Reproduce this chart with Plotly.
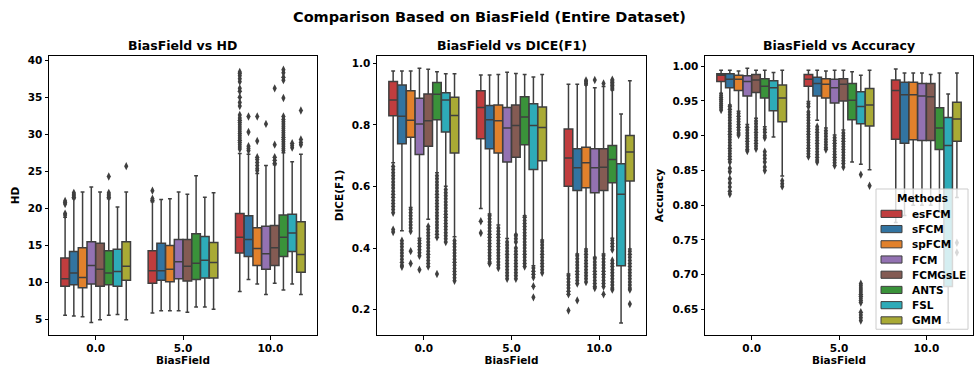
import plotly.graph_objects as go

CATS = ["0.0", "5.0", "10.0"]
METHODS = ["esFCM", "sFCM", "spFCM", "FCM", "FCMGsLE", "ANTS", "FSL", "GMM"]
COLORS = ["#c03d3e", "#3274a1", "#e1812c", "#9372b2", "#845b53", "#3a923a", "#2eabb8", "#a9aa35"]
EDGE = "#3f3f3f"

# ---------------- HD ----------------
HD_Q1 = {"esFCM": [9.5, 9.9, 14.0], "sFCM": [9.7, 10.3, 13.5], "spFCM": [9.3, 10.1, 12.3], "FCM": [9.8, 10.5, 11.8],
         "FCMGsLE": [9.5, 10.2, 12.3], "ANTS": [9.7, 10.4, 13.5], "FSL": [9.5, 10.6, 14.2], "GMM": [10.3, 10.6, 11.4]}
HD_MED = {"esFCM": [10.5, 11.6, 16.1], "sFCM": [11.3, 11.6, 15.8], "spFCM": [10.7, 11.8, 14.6], "FCM": [12.3, 12.8, 13.9],
          "FCMGsLE": [11.8, 12.2, 14.7], "ANTS": [11.3, 12.6, 16.1], "FSL": [11.5, 13.0, 16.7], "GMM": [12.2, 12.7, 13.8]}
HD_Q3 = {"esFCM": [13.3, 14.3, 19.3], "sFCM": [14.2, 15.3, 19.0], "spFCM": [14.7, 15.0, 17.4], "FCM": [15.5, 15.8, 17.6],
         "FCMGsLE": [15.3, 15.8, 17.7], "ANTS": [14.3, 16.6, 19.1], "FSL": [14.5, 16.2, 19.2], "GMM": [15.5, 15.4, 18.2]}
HD_LO = {"esFCM": [5.6, 5.9, 8.8], "sFCM": [5.5, 6.2, 10.4], "spFCM": [5.4, 6.2, 9.8], "FCM": [4.6, 6.2, 8.4],
         "FCMGsLE": [5.0, 6.0, 9.9], "ANTS": [5.6, 6.7, 9.0], "FSL": [5.7, 6.7, 9.8], "GMM": [5.0, 6.4, 8.4]}
HD_HI = {"esFCM": [18.8, 20.9, 27.4], "sFCM": [21.3, 21.2, 27.3], "spFCM": [22.2, 21.3, 24.7], "FCM": [22.9, 22.2, 25.8],
         "FCMGsLE": [22.2, 21.9, 25.9], "ANTS": [21.3, 24.4, 27.5], "FSL": [20.2, 21.5, 26.3], "GMM": [22.2, 22.1, 27.3]}
HD_OUT = {
    "esFCM": [[19.1, 19.3, 20.6, 20.8, 21.0], [21.1, 21.3, 22.4],
              [28.0, 28.3, 28.6, 28.9, 29.2, 29.5, 29.8, 30.1, 30.4, 30.7, 31.0, 31.3, 31.6, 31.9, 32.2, 32.6,
               33.8, 34.3, 35.0, 35.8, 36.2, 37.1, 37.5, 37.9, 38.2, 38.4]],
    "sFCM": [[21.5, 21.7, 21.9, 22.1], [], [27.8, 28.1, 28.4, 30.3, 32.4]],
    "spFCM": [[], [], [25.1, 25.4, 25.8, 26.2, 26.6, 26.9, 29.1, 32.4]],
    "FCM": [[], [], [31.4]],
    "FCMGsLE": [[], [], [26.1, 26.5, 26.9, 28.6, 36.2]],
    "ANTS": [[21.5, 21.7, 21.9, 22.1, 24.3], [],
             [27.8, 28.1, 28.4, 28.7, 29.0, 29.3, 29.6, 29.9, 30.2, 30.5, 30.8, 31.1, 31.4, 31.7, 32.0, 32.4,
              34.9, 37.3, 37.7, 38.3, 38.7]],
    "FSL": [[], [], [28.2, 28.5, 28.8]],
    "GMM": [[25.7], [], [28.6, 28.9, 29.3, 33.2]],
}

# ---------------- DICE(F1) ----------------
DC_Q1 = {"esFCM": [0.830, 0.755, 0.601], "sFCM": [0.739, 0.723, 0.587], "spFCM": [0.760, 0.709, 0.596], "FCM": [0.704, 0.680, 0.580],
         "FCMGsLE": [0.731, 0.695, 0.587], "ANTS": [0.817, 0.736, 0.612], "FSL": [0.777, 0.655, 0.343], "GMM": [0.709, 0.684, 0.618]}
DC_MED = {"esFCM": [0.881, 0.857, 0.693], "sFCM": [0.828, 0.817, 0.661], "spFCM": [0.815, 0.814, 0.677], "FCM": [0.803, 0.790, 0.661],
          "FCMGsLE": [0.814, 0.798, 0.663], "ANTS": [0.900, 0.826, 0.688], "FSL": [0.881, 0.798, 0.575], "GMM": [0.831, 0.792, 0.712]}
DC_Q3 = {"esFCM": [0.941, 0.911, 0.787], "sFCM": [0.930, 0.863, 0.723], "spFCM": [0.911, 0.865, 0.728], "FCM": [0.887, 0.857, 0.723],
         "FCMGsLE": [0.901, 0.865, 0.723], "ANTS": [0.938, 0.892, 0.733], "FSL": [0.905, 0.869, 0.674], "GMM": [0.890, 0.858, 0.766]}
DC_LO = {"esFCM": [0.677, 0.529, 0.316], "sFCM": [0.456, 0.511, 0.381], "spFCM": [0.532, 0.475, 0.397], "FCM": [0.432, 0.431, 0.370],
         "FCMGsLE": [0.494, 0.445, 0.381], "ANTS": [0.645, 0.505, 0.432], "FSL": [0.601, 0.343, 0.157], "GMM": [0.437, 0.426, 0.397]}
DC_HI = {"esFCM": [0.975, 0.962, 0.932], "sFCM": [0.975, 0.962, 0.932], "spFCM": [0.975, 0.964, 0.930], "FCM": [0.984, 0.971, 0.921],
         "FCMGsLE": [0.981, 0.967, 0.925], "ANTS": [0.973, 0.964, 0.914], "FSL": [0.966, 0.956, 0.836], "GMM": [0.966, 0.964, 0.944]}
DC_OUT = {
    "esFCM": [[0.665, 0.655, 0.645, 0.635, 0.625, 0.615, 0.605, 0.595, 0.585, 0.575, 0.565, 0.555, 0.545, 0.535, 0.525, 0.515, 0.460, 0.452],
              [0.487, 0.449],
              [0.310, 0.300, 0.290, 0.280, 0.270, 0.260, 0.250, 0.197]],
    "sFCM": [[0.424, 0.414, 0.404, 0.394, 0.384, 0.374, 0.364, 0.354, 0.344, 0.339],
             [0.505, 0.495, 0.485, 0.475, 0.465, 0.455, 0.445, 0.435, 0.425, 0.415, 0.405, 0.395, 0.385, 0.375, 0.365, 0.355, 0.350],
             [0.375, 0.365, 0.355, 0.345, 0.335, 0.325, 0.315, 0.305, 0.295, 0.285, 0.230]],
    "spFCM": [[0.525, 0.515, 0.505, 0.495, 0.485, 0.475, 0.465, 0.455, 0.390, 0.350],
              [0.465, 0.455, 0.445, 0.435, 0.425, 0.415, 0.405, 0.395, 0.385, 0.375, 0.365, 0.355, 0.345, 0.335],
              [0.935, 0.940, 0.945, 0.390, 0.380, 0.370, 0.360, 0.350, 0.340, 0.330, 0.320, 0.310, 0.300, 0.290]],
    "FCM": [[0.425, 0.415, 0.405, 0.395, 0.385, 0.375, 0.330],
            [0.420, 0.410, 0.400, 0.390, 0.380, 0.370, 0.360, 0.350, 0.340, 0.330, 0.320, 0.310, 0.300],
            [0.946, 0.365, 0.355, 0.345, 0.335, 0.325, 0.315, 0.305, 0.295, 0.285, 0.275, 0.270]],
    "FCMGsLE": [[0.470, 0.460, 0.450, 0.440, 0.430, 0.420, 0.410, 0.400, 0.390, 0.380, 0.370, 0.360, 0.350, 0.340],
                [0.440, 0.430, 0.420, 0.400, 0.390, 0.380, 0.370, 0.360, 0.350, 0.340, 0.330, 0.320, 0.310, 0.300],
                [0.935, 0.375, 0.365, 0.355, 0.345, 0.335, 0.325, 0.315, 0.305, 0.295, 0.285, 0.275, 0.250]],
    "ANTS": [[0.635, 0.625, 0.615, 0.605, 0.595, 0.585, 0.575, 0.565, 0.555, 0.545, 0.535, 0.525, 0.515, 0.505, 0.495,
              0.485, 0.475, 0.465, 0.455, 0.445, 0.435, 0.316],
             [0.500, 0.490, 0.480, 0.470, 0.460, 0.450, 0.440, 0.430, 0.420, 0.410, 0.400, 0.390, 0.380, 0.370, 0.360, 0.350, 0.340],
             [0.918, 0.923, 0.928, 0.933, 0.938, 0.943, 0.947, 0.425, 0.415, 0.405, 0.395, 0.360, 0.350, 0.340, 0.330, 0.320,
              0.310, 0.300, 0.290, 0.280, 0.270, 0.265]],
    "FSL": [[0.590, 0.580, 0.570, 0.560, 0.550, 0.540, 0.530, 0.520, 0.510, 0.500, 0.490, 0.480, 0.470, 0.460, 0.450, 0.440, 0.430, 0.420],
            [0.335, 0.325, 0.315, 0.305, 0.276, 0.240],
            []],
    "GMM": [[0.424, 0.414, 0.404, 0.394, 0.384, 0.374, 0.364, 0.354, 0.344, 0.334, 0.324, 0.314, 0.304, 0.294],
            [0.420, 0.410, 0.400, 0.390, 0.380, 0.370, 0.360, 0.350, 0.340, 0.330, 0.320],
            [0.390, 0.380, 0.370, 0.360, 0.350, 0.340, 0.330, 0.320, 0.310, 0.300, 0.290, 0.280, 0.270, 0.265, 0.218]],
}

# ---------------- Accuracy ----------------
AC_Q1 = {"esFCM": [0.978, 0.971, 0.895], "sFCM": [0.969, 0.957, 0.889], "spFCM": [0.965, 0.954, 0.894], "FCM": [0.957, 0.947, 0.893],
         "FCMGsLE": [0.962, 0.950, 0.893], "ANTS": [0.954, 0.923, 0.880], "FSL": [0.936, 0.917, 0.683], "GMM": [0.920, 0.914, 0.892]}
AC_MED = {"esFCM": [0.987, 0.981, 0.965], "sFCM": [0.981, 0.975, 0.959], "spFCM": [0.981, 0.974, 0.959], "FCM": [0.978, 0.969, 0.957],
          "FCMGsLE": [0.980, 0.974, 0.956], "ANTS": [0.971, 0.951, 0.911], "FSL": [0.969, 0.942, 0.886], "GMM": [0.954, 0.944, 0.924]}
AC_Q3 = {"esFCM": [0.989, 0.988, 0.980], "sFCM": [0.989, 0.984, 0.977], "spFCM": [0.987, 0.982, 0.977], "FCM": [0.986, 0.981, 0.975],
         "FCMGsLE": [0.988, 0.982, 0.975], "ANTS": [0.982, 0.975, 0.940], "FSL": [0.979, 0.963, 0.926], "GMM": [0.973, 0.968, 0.948]}
AC_LO = {"esFCM": [0.961, 0.949, 0.775], "sFCM": [0.944, 0.922, 0.785], "spFCM": [0.935, 0.911, 0.800], "FCM": [0.916, 0.901, 0.800],
         "FCMGsLE": [0.925, 0.908, 0.800], "ANTS": [0.913, 0.862, 0.790], "FSL": [0.898, 0.859, 0.631], "GMM": [0.842, 0.851, 0.811]}
AC_HI = {"esFCM": [0.994, 0.994, 0.996], "sFCM": [0.994, 0.994, 0.990], "spFCM": [0.993, 0.993, 0.990], "FCM": [0.997, 0.994, 0.990],
         "FCMGsLE": [0.994, 0.994, 0.988], "ANTS": [0.994, 0.992, 0.990], "FSL": [0.991, 0.987, 0.960], "GMM": [0.994, 0.994, 0.990]}
AC_OUT = {
    "esFCM": [[0.958, 0.955, 0.952, 0.949, 0.946, 0.943, 0.940, 0.937],
              [0.946, 0.942, 0.934, 0.930, 0.926, 0.922, 0.918, 0.914, 0.910, 0.906, 0.902, 0.898, 0.894, 0.890, 0.886,
               0.882, 0.878, 0.874, 0.870],
              []],
    "sFCM": [[0.942, 0.938, 0.934, 0.930, 0.926, 0.922, 0.918, 0.914, 0.910, 0.906, 0.902, 0.898, 0.894, 0.890, 0.886,
              0.882, 0.878, 0.874, 0.870, 0.866, 0.862, 0.853, 0.848, 0.838, 0.832, 0.826, 0.820, 0.816],
             [0.913, 0.909, 0.905, 0.901, 0.897, 0.893, 0.889, 0.885, 0.881, 0.877, 0.873, 0.869, 0.865, 0.862],
             []],
    "spFCM": [[0.932, 0.928, 0.924, 0.920, 0.916, 0.912, 0.908, 0.904, 0.901],
              [0.907, 0.903, 0.899, 0.895, 0.891, 0.887, 0.883, 0.880],
              []],
    "FCM": [[0.912, 0.908, 0.904, 0.900, 0.896, 0.892, 0.888, 0.884, 0.880, 0.878],
            [0.897, 0.893, 0.889, 0.885, 0.881, 0.877, 0.873, 0.869, 0.865, 0.861, 0.857],
            []],
    "FCMGsLE": [[0.921, 0.917, 0.913, 0.909, 0.905, 0.901, 0.897, 0.893, 0.889, 0.885, 0.881],
                [0.904, 0.900, 0.896, 0.892, 0.888, 0.884, 0.880, 0.876, 0.872, 0.868, 0.864, 0.860, 0.855],
                []],
    "ANTS": [[0.909, 0.905, 0.900, 0.897, 0.877, 0.872, 0.867, 0.862, 0.855, 0.850], [], []],
    "FSL": [[], [0.844, 0.687, 0.684, 0.681, 0.678, 0.675, 0.672, 0.669, 0.666, 0.663, 0.660, 0.646, 0.642, 0.638, 0.634], []],
    "GMM": [[0.835, 0.831, 0.827], [0.828], [0.746, 0.732]],
}

METRICS = [
    ("HD", HD_Q1, HD_MED, HD_Q3, HD_LO, HD_HI, HD_OUT),
    ("DICE(F1)", DC_Q1, DC_MED, DC_Q3, DC_LO, DC_HI, DC_OUT),
    ("Accuracy", AC_Q1, AC_MED, AC_Q3, AC_LO, AC_HI, AC_OUT),
]
Y_RANGES = [[2.9, 40.6], [0.117, 1.025], [0.613, 1.015]]
Y_TICKS = [[5, 10, 15, 20, 25, 30, 35, 40], [0.2, 0.4, 0.6, 0.8, 1.0],
           [0.65, 0.70, 0.75, 0.80, 0.85, 0.90, 0.95, 1.00]]
Y_FMT = ["d", ".1f", ".2f"]

W, H = 978, 373
X_DOMS = [[49 / W, 317 / W], [377 / W, 646 / W], [705 / W, 973 / W]]
Y_DOM = [1 - 335 / H, 1 - 54 / H]

FONT = "DejaVu Sans"
fig = go.Figure()

for k, (label, q1, med, q3, lo, hi, out) in enumerate(METRICS):
    ax = "" if k == 0 else str(k + 1)
    for m, col in zip(METHODS, COLORS):
        # each box's sample list holds its median (inside the whiskers, so hidden) plus the fliers
        samples = [[med[m][i]] + out[m][i] for i in range(len(CATS))]
        fig.add_trace(go.Box(
            x=CATS, q1=q1[m], median=med[m], q3=q3[m], lowerfence=lo[m], upperfence=hi[m],
            y=samples, boxpoints="outliers", pointpos=0, jitter=0,
            name=m, legendgroup=m, showlegend=False, offsetgroup=m,
            fillcolor=col, line=dict(color=EDGE, width=1.5), whiskerwidth=0.45,
            marker=dict(symbol="diamond-tall", size=6, color=EDGE, line=dict(width=0)),
            xaxis="x" + ax, yaxis="y" + ax, hoverinfo="skip",
        ))

axis_common = dict(showline=True, mirror=True, linecolor="black", linewidth=1, ticks="outside",
                   ticklen=3.5, tickwidth=0.8, tickcolor="black", showgrid=False, zeroline=False,
                   tickfont=dict(family=FONT, size=10.5, color="black", weight="bold"))

layout = dict(width=W, height=H, margin=dict(l=0, r=0, t=0, b=0), paper_bgcolor="white",
              plot_bgcolor="white", boxmode="group", boxgap=0.2, boxgroupgap=0.02, showlegend=False,
              font=dict(family=FONT, color="black"))
annotations = [dict(text="<b>Comparison Based on BiasField (Entire Dataset)</b>", x=0.5, y=1 - 15 / H,
                    xref="paper", yref="paper", showarrow=False, xanchor="center", yanchor="middle",
                    font=dict(family=FONT, size=14.5, color="black"))]
for k, (label, *_rest) in enumerate(METRICS):
    ax = "" if k == 0 else str(k + 1)
    layout["xaxis" + ax] = dict(axis_common, domain=X_DOMS[k], anchor="y" + ax, type="category",
                                categoryorder="array", categoryarray=CATS,
                                title=dict(text="BiasField", standoff=2,
                                           font=dict(family=FONT, size=10.5, color="black", weight="bold")))
    layout["yaxis" + ax] = dict(axis_common, domain=Y_DOM, anchor="x" + ax, range=Y_RANGES[k],
                                tickvals=Y_TICKS[k], tickformat=Y_FMT[k],
                                title=dict(text=label, standoff=6,
                                           font=dict(family=FONT, size=10.5, color="black", weight="bold")))
    annotations.append(dict(text="<b>BiasField vs " + label + "</b>", x=sum(X_DOMS[k]) / 2, y=1 - 44 / H,
                            xref="paper", yref="paper", showarrow=False, xanchor="center", yanchor="middle",
                            font=dict(family=FONT, size=12.5, color="black")))

# legend (matplotlib-style) inside the third panel
LEG_X0, LEG_X1, LEG_Y0, LEG_Y1 = 876, 968, 188, 329
shapes = [dict(type="rect", xref="paper", yref="paper", layer="above",
               x0=LEG_X0 / W, x1=LEG_X1 / W, y0=1 - LEG_Y1 / H, y1=1 - LEG_Y0 / H,
               fillcolor="rgba(255,255,255,0.8)", line=dict(color="#cccccc", width=1))]
annotations.append(dict(text="<b>Methods</b>", x=922 / W, y=1 - 197 / H, xref="paper", yref="paper",
                        showarrow=False, xanchor="center", yanchor="middle",
                        font=dict(family=FONT, size=10.5, color="black")))
for i, (m, col) in enumerate(zip(METHODS, COLORS)):
    yc = 213 + i * 15.3
    shapes.append(dict(type="rect", xref="paper", yref="paper", layer="above",
                       x0=881 / W, x1=902 / W, y0=1 - (yc + 3.6) / H, y1=1 - (yc - 3.6) / H,
                       fillcolor=col, line=dict(color=EDGE, width=1)))
    annotations.append(dict(text="<b>" + m + "</b>", x=910 / W, y=1 - yc / H, xref="paper", yref="paper",
                            showarrow=False, xanchor="left", yanchor="middle",
                            font=dict(family=FONT, size=10.5, color="black")))
layout["annotations"] = annotations
layout["shapes"] = shapes
fig.update_layout(**layout)
fig.write_html("out.html")
